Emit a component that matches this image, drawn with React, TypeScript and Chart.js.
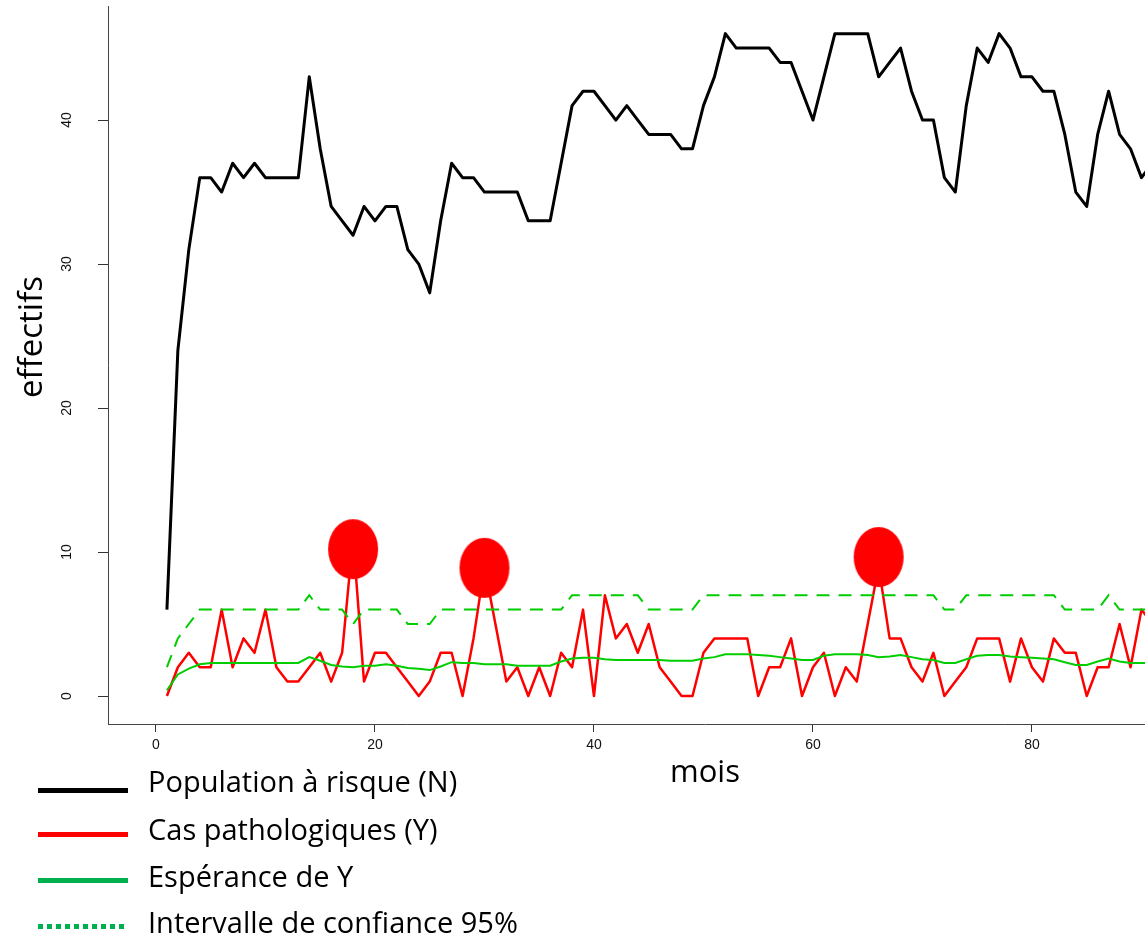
import React, { useEffect, useRef } from "react";
import { Chart, registerables } from "chart.js";

Chart.register(...registerables);

// ---- data ----
const months: number[] = Array.from({ length: 91 }, (_, i) => i + 1);

const populationN = [
  6, 24, 31, 36, 36, 35, 37, 36, 37, 36, 36, 36, 36, 43, 38, 34, 33, 32, 34, 33,
  34, 34, 31, 30, 28, 33, 37, 36, 36, 35, 35, 35, 35, 33, 33, 33, 37, 41, 42, 42,
  41, 40, 41, 40, 39, 39, 39, 38, 38, 41, 43, 46, 45, 45, 45, 45, 44, 44, 42, 40,
  43, 46, 46, 46, 46, 43, 44, 45, 42, 40, 40, 36, 35, 41, 45, 44, 46, 45, 43, 43,
  42, 42, 39, 35, 34, 39, 42, 39, 38, 36, 37,
];

const casY = [
  0, 2, 3, 2, 2, 6, 2, 4, 3, 6, 2, 1, 1, 2, 3, 1, 3, 11, 1, 3,
  3, 2, 1, 0, 1, 3, 3, 0, 4, 9, 5, 1, 2, 0, 2, 0, 3, 2, 6, 0,
  7, 4, 5, 3, 5, 2, 1, 0, 0, 3, 4, 4, 4, 4, 0, 2, 2, 4, 0, 2,
  3, 0, 2, 1, 5, 9, 4, 4, 2, 1, 3, 0, 1, 2, 4, 4, 4, 1, 4, 2,
  1, 4, 3, 3, 0, 2, 2, 5, 2, 6, 5,
];

const esperanceY = [
  0.4, 1.5, 1.9, 2.2, 2.3, 2.3, 2.3, 2.3, 2.3, 2.3, 2.3, 2.3, 2.3, 2.7, 2.45, 2.15, 2.05, 2.0, 2.1, 2.1,
  2.2, 2.1, 1.95, 1.9, 1.8, 2.05, 2.35, 2.3, 2.3, 2.2, 2.2, 2.2, 2.1, 2.1, 2.1, 2.1, 2.4, 2.6, 2.65, 2.65,
  2.55, 2.5, 2.5, 2.5, 2.5, 2.5, 2.45, 2.45, 2.45, 2.6, 2.7, 2.9, 2.9, 2.9, 2.85, 2.8, 2.7, 2.6, 2.5, 2.5,
  2.8, 2.9, 2.9, 2.9, 2.85, 2.7, 2.75, 2.85, 2.7, 2.55, 2.5, 2.3, 2.3, 2.55, 2.8, 2.85, 2.85, 2.75, 2.7, 2.65,
  2.6, 2.55, 2.35, 2.15, 2.15, 2.4, 2.6, 2.4, 2.3, 2.3, 2.3,
];

const icUpper = [
  2, 4, 5, 6, 6, 6, 6, 6, 6, 6, 6, 6, 6, 7, 6, 6, 6, 5, 6, 6,
  6, 6, 5, 5, 5, 6, 6, 6, 6, 6, 6, 6, 6, 6, 6, 6, 6, 7, 7, 7,
  7, 7, 7, 7, 6, 6, 6, 6, 6, 7, 7, 7, 7, 7, 7, 7, 7, 7, 7, 7,
  7, 7, 7, 7, 7, 7, 7, 7, 7, 7, 7, 6, 6, 7, 7, 7, 7, 7, 7, 7,
  7, 7, 6, 6, 6, 6, 7, 6, 6, 6, 6,
];

const alertMonths = [18, 30, 66];
const alertLevels = [10.2, 8.9, 9.65];

const xTicks = [0, 20, 40, 60, 80];
const yTicks = [0, 10, 20, 30, 40];

const legendLabels = [
  "Population à risque (N)",
  "Cas pathologiques (Y)",
  "Espérance de Y",
  "Intervalle de confiance 95%",
];

const TITLE_FONT = '"Open Sans", "DejaVu Sans", sans-serif';

export default function App() {
  const ref = useRef<HTMLCanvasElement>(null);

  useEffect(() => {
    if (!ref.current) return;
    const balloon = document.createElement("canvas");
    balloon.width = 52;
    balloon.height = 62;
    const bctx = balloon.getContext("2d")!;
    bctx.fillStyle = "#FF0000";
    bctx.beginPath();
    bctx.ellipse(26, 31, 25, 30, 0, 0, Math.PI * 2);
    bctx.fill();

    const textPlugin = {
      id: "rtexts",
      afterDraw(chart: any) {
        const ctx = chart.ctx as CanvasRenderingContext2D;
        const ys = chart.scales.y;
        ctx.save();
        ctx.fillStyle = "#111";
        ctx.font = '14px "Liberation Sans", Arial, sans-serif';
        ctx.textAlign = "center";
        ctx.textBaseline = "middle";
        yTicks.forEach((v) => {
          ctx.save();
          ctx.translate(67, ys.getPixelForValue(v));
          ctx.rotate(-Math.PI / 2);
          ctx.fillText(String(v), 0, 0);
          ctx.restore();
        });
        ctx.fillStyle = "#000";
        ctx.font = "33px " + TITLE_FONT;
        ctx.save();
        ctx.translate(33, 337);
        ctx.rotate(-Math.PI / 2);
        ctx.fillText("effectifs", 0, 0);
        ctx.restore();
        ctx.font = "31px " + TITLE_FONT;
        ctx.fillText("mois", 705, 773);
        ctx.restore();
      },
    };

    const chart = new Chart(ref.current, {
      type: "line",
      data: {
        labels: months,
        datasets: [
          {
            label: "Alertes",
            data: alertMonths.map((m, i) => ({ x: m, y: alertLevels[i] })),
            showLine: false,
            pointStyle: balloon as any,
            pointRadius: 1,
            borderColor: "#FF0000",
            backgroundColor: "#FF0000",
            clip: false,
          },
          {
            label: "Intervalle de confiance 95%",
            data: icUpper,
            borderColor: "#00CD00",
            borderWidth: 2,
            borderDash: [13, 9],
            pointRadius: 0,
            tension: 0,
          },
          {
            label: "Espérance de Y",
            data: esperanceY,
            borderColor: "#00CD00",
            borderWidth: 2,
            pointRadius: 0,
            tension: 0,
          },
          {
            label: "Cas pathologiques (Y)",
            data: casY,
            borderColor: "#FF0000",
            borderWidth: 2.5,
            pointRadius: 0,
            tension: 0,
            borderJoinStyle: "round",
          },
          {
            label: "Population à risque (N)",
            data: populationN,
            borderColor: "#000000",
            borderWidth: 3,
            pointRadius: 0,
            tension: 0,
            borderJoinStyle: "round",
          },
        ],
      },
      options: {
        responsive: false,
        animation: false,
        layout: { autoPadding: false, padding: { top: 6, left: 0, right: 0, bottom: 0 } },
        plugins: {
          legend: { display: false },
          tooltip: { enabled: false },
        },
        scales: {
          x: {
            type: "linear",
            min: -4.38,
            max: 104.66,
            afterBuildTicks: (s: any) => {
              s.ticks = xTicks.map((v) => ({ value: v }));
            },
            afterFit: (s: any) => {
              s.height = 213;
            },
            grid: {
              drawOnChartArea: false,
              drawTicks: true,
              tickLength: 8,
              color: "#333",
              lineWidth: 1,
            },
            border: { display: true, color: "#444", width: 1 },
            ticks: {
              font: { family: '"Liberation Sans", Arial, sans-serif', size: 14 },
              color: "#111",
              padding: 5,
              maxRotation: 0,
              autoSkip: false,
            },
          },
          y: {
            type: "linear",
            min: -1.944,
            max: 47.92,
            afterBuildTicks: (s: any) => {
              s.ticks = yTicks.map((v) => ({ value: v }));
            },
            afterFit: (s: any) => {
              s.width = 108;
            },
            grid: {
              drawOnChartArea: false,
              drawTicks: true,
              tickLength: 10,
              color: "#333",
              lineWidth: 1,
            },
            border: { display: true, color: "#444", width: 1 },
            ticks: { display: false },
          },
        },
      },
      plugins: [textPlugin],
    } as any);
    return () => chart.destroy();
  }, []);

  const legendColors = ["#000000", "#FF0000", "#00B050", "#00B050"];
  const lineY = [790, 834, 880, 926];
  const textY = [781, 829, 876, 922];

  return (
    <div
      style={{
        position: "absolute",
        left: 0,
        top: 0,
        width: 1145,
        height: 937,
        overflow: "hidden",
        background: "#fff",
      }}
    >
      <canvas
        ref={ref}
        width={1302}
        height={937}
        style={{ position: "absolute", left: 0, top: 0, width: 1302, height: 937 }}
      />
      {legendLabels.map((lab, i) => (
        <React.Fragment key={lab}>
          <div
            style={{
              position: "absolute",
              left: 38,
              top: lineY[i] - 2.5,
              width: 90,
              height: 5,
              background:
                i === 3
                  ? `repeating-linear-gradient(90deg, ${legendColors[i]} 0 5px, transparent 5px 9px)`
                  : legendColors[i],
            }}
          />
          <div
            style={{
              position: "absolute",
              left: 148,
              top: textY[i] - 19,
              height: 38,
              lineHeight: "38px",
              fontFamily: TITLE_FONT,
              fontSize: 29,
              color: "#000",
              whiteSpace: "nowrap",
            }}
          >
            {lab}
          </div>
        </React.Fragment>
      ))}
    </div>
  );
}
